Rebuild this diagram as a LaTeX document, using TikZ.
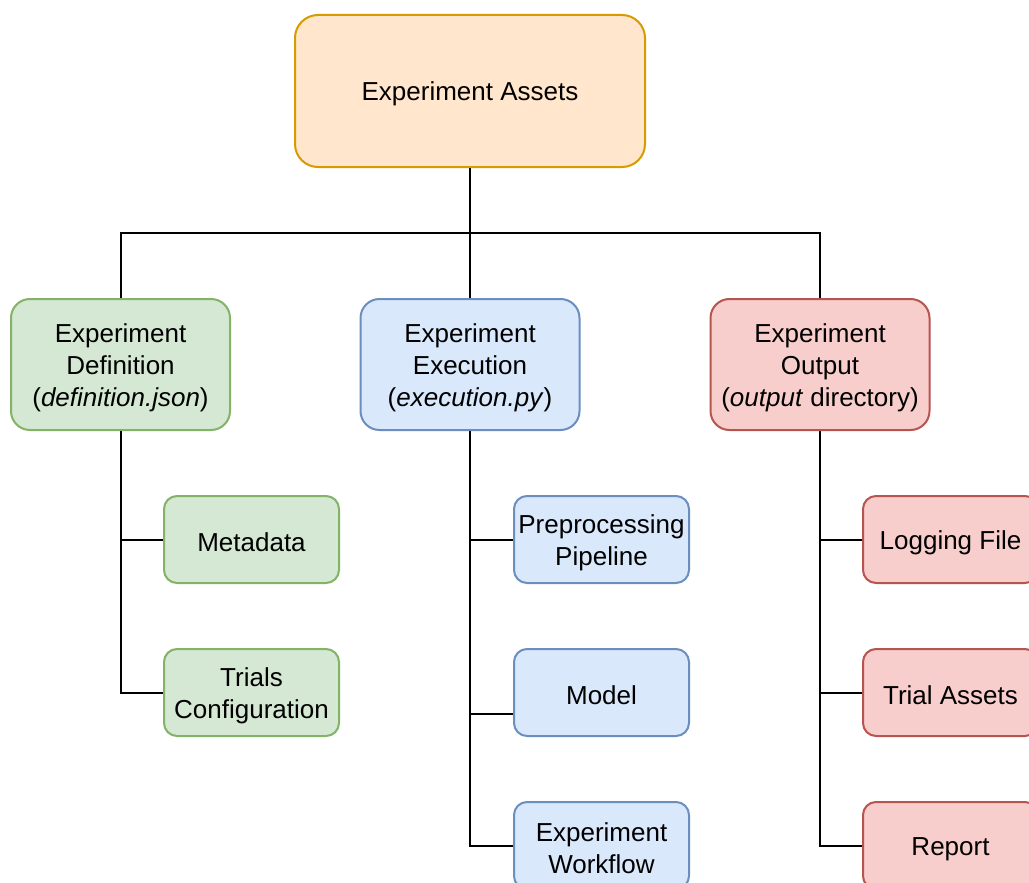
\documentclass[tikz,border=0pt]{standalone}
\usepackage{fontspec}
\setmainfont{Liberation Sans}
\definecolor{orgF}{HTML}{FFE6CC}\definecolor{orgD}{HTML}{D79B00}
\definecolor{grnF}{HTML}{D5E8D4}\definecolor{grnD}{HTML}{82B366}
\definecolor{bluF}{HTML}{DAE8FC}\definecolor{bluD}{HTML}{6C8EBF}
\definecolor{redF}{HTML}{F8CECC}\definecolor{redD}{HTML}{B85450}
\newcommand\mytopstrut{\rule{0pt}{24.6pt}}
\tikzset{
  box/.style={draw, line width=2pt, align=center, inner sep=0pt,
    font=\fontsize{26}{32}\selectfont, text=black,
    execute at begin node={\mytopstrut}},
  bigbox/.style={box, minimum width=350pt, minimum height=152pt, rounded corners=23pt},
  midbox/.style={box, minimum width=219pt, minimum height=131pt, rounded corners=19pt},
  smallbox/.style={box, minimum width=175pt, minimum height=87pt, rounded corners=13pt},
  orgbox/.style={fill=orgF, draw=orgD},
  grnbox/.style={fill=grnF, draw=grnD},
  blubox/.style={fill=bluF, draw=bluD},
  redbox/.style={fill=redF, draw=redD},
  link/.style={draw=black, line width=2pt}
}
\begin{document}
\begin{tikzpicture}[x=1pt,y=-1pt]
\useasboundingbox (0,0) rectangle (1029,883);
\clip (0,0) rectangle (1029,883);
\fill[white] (0,0) rectangle (1029,883);
% nodes
\node[bigbox, orgbox] (assets) at (470,91) {Experiment Assets};
\node[midbox, grnbox] (def) at (120.5,364.5) {\mytopstrut Experiment\\Definition\\(\textit{definition.json})};
\node[midbox, blubox] (exe) at (470,364.5) {\mytopstrut Experiment\\Execution\\(\textit{execution.py})};
\node[midbox, redbox] (out) at (820,364.5) {\mytopstrut Experiment\\Output\\(\textit{output} directory)};
\node[smallbox, grnbox] (meta) at (251.5,539.5) {Metadata};
\node[smallbox, grnbox] (trials) at (251.5,692.5) {\mytopstrut Trials\\Configuration};
\node[smallbox, blubox] (pre) at (601.5,539.5) {\mytopstrut Preprocessing\\Pipeline};
\node[smallbox, blubox] (model) at (601.5,692.5) {Model};
\node[smallbox, blubox] (wf) at (601.5,845.5) {\mytopstrut Experiment\\Workflow};
\node[smallbox, redbox] (log) at (950.5,539.5) {Logging File};
\node[smallbox, redbox] (tass) at (950.5,692.5) {Trial Assets};
\node[smallbox, redbox] (rep) at (950.5,845.5) {Report};
\coordinate (hub) at (470,233);
% connectors
\draw[link] (assets.south) -- (hub);
\draw[link] (def.north) |- (hub) -| (out.north);
\draw[link] (hub) -- (exe.north);
\draw[link] (def.south) |- (meta.west);
\draw[link] (def.south) |- (trials.west);
\draw[link] (exe.south) |- (pre.west);
\draw[link] (exe.south) |- ([yshift=-21pt]model.west);
\draw[link] (exe.south) |- (wf.west);
\draw[link] (out.south) |- (log.west);
\draw[link] (out.south) |- (tass.west);
\draw[link] (out.south) |- (rep.west);
\end{tikzpicture}
\end{document}
